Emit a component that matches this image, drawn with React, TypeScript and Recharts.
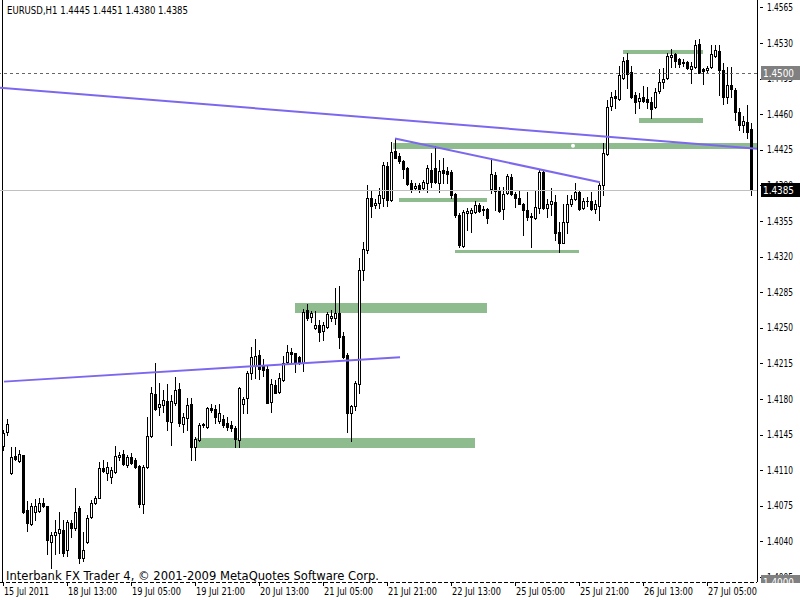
import React from "react";
import { ComposedChart, Bar, XAxis, YAxis, ReferenceLine, ReferenceArea, ReferenceDot } from "recharts";

// EURUSD H1, 15 Jul 21:00 .. 27 Jul 16:00 (188 bars)
const opens = [
  1.4134,1.4147,1.4107,1.4124,1.4119,1.4125,1.4071,1.4057,1.4069,1.4070,
  1.4078,1.4075,1.4039,1.4046,1.4048,1.4051,1.4031,1.4058,1.4053,1.4073,
  1.4024,1.4039,1.4064,1.4078,1.4083,1.4112,1.4107,1.4103,1.4108,1.4123,
  1.4126,1.4115,1.4123,1.4120,1.4114,1.4077,1.4113,1.4144,1.4185,1.4172,
  1.4174,1.4178,1.4157,1.4176,1.4190,1.4155,1.4161,1.4175,1.4133,1.4140,
  1.4154,1.4152,1.4171,1.4170,1.4158,1.4160,1.4156,1.4154,1.4151,1.4140,
  1.4175,1.4181,1.4205,1.4212,1.4223,1.4213,1.4209,1.4177,1.4194,1.4187,
  1.4199,1.4216,1.4226,1.4225,1.4221,1.4215,1.4267,1.4261,1.4250,1.4253,
  1.4247,1.4251,1.4260,1.4260,1.4264,1.4242,1.4223,1.4166,1.4173,1.4195,
  1.4307,1.4326,1.4378,1.4371,1.4373,1.4378,1.4409,1.4376,1.4424,1.4419,
  1.4414,1.4407,1.4392,1.4387,1.4390,1.4387,1.4392,1.4405,1.4407,1.4392,
  1.4405,1.4404,1.4403,1.4381,1.4361,1.4330,1.4363,1.4363,1.4364,1.4371,
  1.4366,1.4367,1.4386,1.4400,1.4384,1.4367,1.4382,1.4398,1.4381,1.4378,
  1.4372,1.4366,1.4359,1.4358,1.4368,1.4403,1.4368,1.4372,1.4374,1.4344,
  1.4333,1.4354,1.4372,1.4377,1.4383,1.4368,1.4375,1.4375,1.4367,1.4370,
  1.4390,1.4421,1.4468,1.4478,1.4475,1.4496,1.4513,1.4501,1.4479,1.4473,
  1.4477,1.4475,1.4472,1.4467,1.4483,1.4492,1.4496,1.4516,1.4519,1.4514,
  1.4511,1.4511,1.4504,1.4506,1.4529,1.4504,1.4503,1.4506,1.4517,1.4522,
  1.4503,1.4477,1.4489,1.4484,1.4462,1.4449,1.4452,1.4445,
];
const highs = [
  1.4149,1.4160,1.4133,1.4133,1.4130,1.4125,1.4080,1.4078,1.4082,1.4083,
  1.4083,1.4075,1.4049,1.4061,1.4069,1.4061,1.4061,1.4061,1.4092,1.4075,
  1.4049,1.4066,1.4081,1.4085,1.4118,1.4120,1.4118,1.4113,1.4134,1.4128,
  1.4130,1.4125,1.4127,1.4122,1.4115,1.4115,1.4162,1.4192,1.4215,1.4196,
  1.4189,1.4195,1.4184,1.4202,1.4196,1.4166,1.4181,1.4181,1.4143,1.4156,
  1.4156,1.4172,1.4175,1.4174,1.4175,1.4164,1.4162,1.4158,1.4153,1.4192,
  1.4182,1.4207,1.4231,1.4239,1.4228,1.4219,1.4213,1.4200,1.4199,1.4205,
  1.4222,1.4233,1.4230,1.4225,1.4222,1.4268,1.4273,1.4266,1.4266,1.4258,
  1.4256,1.4265,1.4267,1.4289,1.4291,1.4246,1.4225,1.4174,1.4198,1.4319,
  1.4334,1.4390,1.4385,1.4377,1.4387,1.4413,1.4413,1.4433,1.4436,1.4422,
  1.4415,1.4408,1.4395,1.4392,1.4392,1.4395,1.4410,1.4422,1.4429,1.4415,
  1.4417,1.4408,1.4405,1.4382,1.4363,1.4366,1.4368,1.4368,1.4375,1.4373,
  1.4370,1.4368,1.4417,1.4403,1.4388,1.4388,1.4401,1.4401,1.4383,1.4385,
  1.4373,1.4383,1.4363,1.4384,1.4405,1.4404,1.4377,1.4387,1.4380,1.4354,
  1.4372,1.4380,1.4380,1.4392,1.4385,1.4378,1.4379,1.4383,1.4376,1.4392,
  1.4432,1.4474,1.4482,1.4484,1.4507,1.4516,1.4520,1.4507,1.4482,1.4481,
  1.4488,1.4487,1.4477,1.4486,1.4504,1.4505,1.4520,1.4524,1.4520,1.4515,
  1.4514,1.4512,1.4511,1.4533,1.4534,1.4505,1.4507,1.4528,1.4528,1.4528,
  1.4510,1.4506,1.4506,1.4486,1.4466,1.4458,1.4469,1.4451,
];
const lows = [
  1.4130,1.4145,1.4106,1.4120,1.4118,1.4068,1.4050,1.4056,1.4061,1.4069,
  1.4074,1.4028,1.4014,1.4028,1.4029,1.4026,1.4026,1.4044,1.4051,1.4019,
  1.4021,1.4038,1.4063,1.4077,1.4083,1.4108,1.4100,1.4097,1.4107,1.4120,
  1.4115,1.4113,1.4116,1.4112,1.4074,1.4068,1.4112,1.4143,1.4169,1.4164,
  1.4167,1.4149,1.4135,1.4174,1.4153,1.4147,1.4149,1.4120,1.4120,1.4139,
  1.4152,1.4151,1.4167,1.4156,1.4156,1.4152,1.4149,1.4148,1.4133,1.4133,
  1.4166,1.4166,1.4200,1.4201,1.4200,1.4203,1.4176,1.4167,1.4186,1.4186,
  1.4198,1.4215,1.4215,1.4206,1.4214,1.4207,1.4258,1.4256,1.4249,1.4237,
  1.4238,1.4250,1.4257,1.4254,1.4230,1.4220,1.4147,1.4139,1.4169,1.4186,
  1.4297,1.4323,1.4359,1.4368,1.4368,1.4370,1.4370,1.4375,1.4417,1.4412,
  1.4397,1.4390,1.4383,1.4385,1.4383,1.4385,1.4383,1.4388,1.4392,1.4383,
  1.4392,1.4392,1.4378,1.4359,1.4329,1.4329,1.4346,1.4344,1.4363,1.4364,
  1.4361,1.4353,1.4382,1.4366,1.4364,1.4357,1.4381,1.4380,1.4369,1.4372,
  1.4341,1.4356,1.4329,1.4357,1.4363,1.4367,1.4359,1.4361,1.4336,1.4324,
  1.4333,1.4343,1.4370,1.4376,1.4366,1.4367,1.4370,1.4366,1.4363,1.4356,
  1.4380,1.4420,1.4464,1.4466,1.4474,1.4495,1.4486,1.4476,1.4461,1.4466,
  1.4472,1.4466,1.4456,1.4466,1.4481,1.4486,1.4495,1.4506,1.4506,1.4506,
  1.4507,1.4504,1.4491,1.4505,1.4500,1.4490,1.4501,1.4505,1.4516,1.4479,
  1.4470,1.4471,1.4477,1.4454,1.4444,1.4442,1.4437,1.4380,
];
const closes = [
  1.4146,1.4155,1.4123,1.4121,1.4126,1.4069,1.4058,1.4075,1.4075,1.4078,
  1.4075,1.4041,1.4046,1.4049,1.4052,1.4029,1.4059,1.4053,1.4069,1.4024,
  1.4031,1.4063,1.4078,1.4083,1.4112,1.4109,1.4113,1.4110,1.4124,1.4125,
  1.4116,1.4123,1.4117,1.4113,1.4077,1.4113,1.4144,1.4186,1.4170,1.4175,
  1.4179,1.4158,1.4178,1.4189,1.4156,1.4162,1.4174,1.4133,1.4141,1.4154,
  1.4155,1.4171,1.4169,1.4162,1.4166,1.4154,1.4152,1.4151,1.4141,1.4191,
  1.4180,1.4205,1.4221,1.4222,1.4209,1.4208,1.4176,1.4195,1.4186,1.4201,
  1.4215,1.4226,1.4224,1.4215,1.4215,1.4265,1.4260,1.4264,1.4253,1.4246,
  1.4253,1.4263,1.4262,1.4264,1.4241,1.4221,1.4166,1.4173,1.4196,1.4307,
  1.4327,1.4378,1.4370,1.4373,1.4380,1.4410,1.4376,1.4423,1.4417,1.4414,
  1.4406,1.4391,1.4386,1.4389,1.4385,1.4393,1.4407,1.4393,1.4393,1.4404,
  1.4402,1.4401,1.4380,1.4361,1.4331,1.4364,1.4365,1.4366,1.4371,1.4365,
  1.4367,1.4358,1.4401,1.4384,1.4365,1.4381,1.4399,1.4381,1.4378,1.4372,
  1.4366,1.4359,1.4360,1.4369,1.4403,1.4368,1.4372,1.4375,1.4343,1.4333,
  1.4354,1.4372,1.4377,1.4383,1.4367,1.4375,1.4375,1.4367,1.4372,1.4390,
  1.4422,1.4467,1.4477,1.4476,1.4498,1.4512,1.4499,1.4477,1.4472,1.4476,
  1.4473,1.4472,1.4465,1.4482,1.4492,1.4495,1.4517,1.4518,1.4512,1.4509,
  1.4510,1.4505,1.4507,1.4528,1.4500,1.4502,1.4505,1.4519,1.4523,1.4503,
  1.4477,1.4489,1.4485,1.4462,1.4449,1.4453,1.4442,1.4385,
];

const timeTicks = [0, 16, 32, 48, 64, 80, 96, 112, 128, 144, 160, 176];
const timeLabels = [
  "15 Jul 2011", "18 Jul 13:00", "19 Jul 05:00", "19 Jul 21:00", "20 Jul 13:00", "21 Jul 05:00",
  "21 Jul 21:00", "22 Jul 13:00", "25 Jul 05:00", "25 Jul 21:00", "26 Jul 13:00", "27 Jul 05:00",
];
const priceTicks = [
  1.4565, 1.453, 1.4495, 1.446, 1.4425, 1.439, 1.4355, 1.432, 1.4285,
  1.425, 1.4215, 1.418, 1.4145, 1.411, 1.4075, 1.404, 1.4005,
];
// marked prices on the scale: alert line, bid, bottom line
const markPrices = [1.45, 1.4385, 1.4];
const markColors = ["#808080", "#000000", "#808080"];

// green zones drawn on the chart (bar index, price)
const zoneFrom = [73, 48.25, 97.5, 99, 113, 155, 159];
const zoneTo = [121, 118, 188.5, 121, 144, 175, 175];
const zoneLow = [1.4264, 1.4132, 1.4426, 1.4374, 1.4323, 1.4519, 1.4451];
const zoneHigh = [1.4274, 1.4142, 1.4432, 1.4378, 1.4326, 1.4523, 1.4456];

// trend lines (bar index, price)
const trendX1 = [-0.75, 0.25, 98];
const trendY1 = [1.4486, 1.4197, 1.4436];
const trendX2 = [188.5, 99.25, 149.25];
const trendY2 = [1.4426, 1.4221, 1.4393];

const data = opens.map((o, i) => ({ i, open: o, high: highs[i], low: lows[i], close: closes[i] }));

const PLOT_BOTTOM = 582;
const FONT = "'Liberation Sans Narrow', 'DejaVu Sans Condensed', 'Liberation Sans', sans-serif";

function Candle(props: any) {
  const { x, y, width, height, payload } = props;
  if (!payload || !height) return null;
  const { open, close, high, low } = payload;
  const k = height / (high - low);
  const cx = Math.round(x + width / 2);
  const yO = y + (high - open) * k;
  const yC = y + (high - close) * k;
  const top = Math.round(Math.min(yO, yC));
  const bot = Math.round(Math.max(yO, yC));
  const up = close >= open;
  return (
    <g shapeRendering="crispEdges">
      <line x1={cx + 0.5} x2={cx + 0.5} y1={Math.round(y)} y2={Math.round(y + height) + 1} stroke="#000" />
      {bot - top < 1 ? (
        <line x1={cx - 1} x2={cx + 2} y1={top + 0.5} y2={top + 0.5} stroke="#000" />
      ) : (
        <rect x={cx - 0.5} y={top + 0.5} width={2} height={bot - top} fill={up ? "#fff" : "#000"} stroke="#000" />
      )}
    </g>
  );
}

function TimeTick(props: any) {
  const { x, y, payload } = props;
  const k = timeTicks.indexOf(payload.value);
  const label = timeLabels[k];
  return (
    <text
      x={x + 1}
      y={y}
      dy="0.72em"
      fontSize={10}
      fontFamily={FONT}
      fill="#000"
      textLength={label.length === 11 ? 45 : 49}
      lengthAdjust="spacingAndGlyphs"
    >
      {label}
    </text>
  );
}

function PriceTick(props: any) {
  const { x, y, payload } = props;
  const v = payload.value;
  const m = markPrices.indexOf(v);
  if (m >= 0) {
    const top = Math.round(y) - 7;
    const bottom = Math.min(Math.round(y) + 7, PLOT_BOTTOM + 1);
    return (
      <g>
        <rect x={x + 4} y={top} width={800 - x - 4} height={bottom - top} fill={markColors[m]} />
        <text x={x + 6} y={y} dy="0.36em" fontSize={11} fontFamily={FONT} fill="#fff" textLength={31} lengthAdjust="spacingAndGlyphs">
          {v.toFixed(4)}
        </text>
      </g>
    );
  }
  const yy = Math.round(y) + 0.5;
  return (
    <g>
      <line x1={x + 3} x2={x + 6} y1={yy} y2={yy} stroke="#000" shapeRendering="crispEdges" />
      <text x={x + 10} y={y} dy="0.36em" fontSize={10} fontFamily={FONT} fill="#000" textLength={26} lengthAdjust="spacingAndGlyphs">
        {v.toFixed(4)}
      </text>
    </g>
  );
}

export default function App() {
  return (
    <div style={{ position: "relative", width: 800, height: 600, background: "#fff" }}>
      <style>{"body{margin:0}"}</style>
      <ComposedChart width={800} height={600} data={data} margin={{ top: 0, right: 0, bottom: 0, left: 0 }}>
        <XAxis
          dataKey="i"
          type="number"
          domain={[-0.75, 188.5]}
          allowDataOverflow
          ticks={timeTicks}
          interval={0}
          height={18}
          tickSize={4}
          tickMargin={2}
          tick={<TimeTick />}
          axisLine={{ stroke: "#000", strokeDasharray: "4 2", shapeRendering: "crispEdges" }}
          tickLine={{ stroke: "#000", shapeRendering: "crispEdges" }}
        />
        <YAxis
          orientation="right"
          type="number"
          domain={[1.4, 1.45722]}
          allowDataOverflow
          ticks={[...priceTicks, ...markPrices]}
          interval={0}
          width={43}
          tickSize={0}
          tickMargin={0}
          tick={<PriceTick />}
          axisLine={{ stroke: "#000", shapeRendering: "crispEdges" }}
          tickLine={false}
        />
        <ReferenceLine x={-0.25} stroke="#000" shapeRendering="crispEdges" />
        {zoneFrom.map((x1, k) => (
          <ReferenceArea
            key={"z" + k}
            x1={x1}
            x2={zoneTo[k]}
            y1={zoneLow[k]}
            y2={zoneHigh[k]}
            fill="#8fbc8f"
            fillOpacity={1}
            stroke="none"
            ifOverflow="visible"
            shapeRendering="crispEdges"
          />
        ))}
        <ReferenceLine y={markPrices[0]} stroke="#666" strokeDasharray="3 3" shapeRendering="crispEdges" />
        <ReferenceLine y={markPrices[1]} stroke="#c0c0c0" shapeRendering="crispEdges" />
        <Bar dataKey={(d: any) => [d.low, d.high]} barSize={3} shape={(p: any) => <Candle {...p} />} isAnimationActive={false} />
        {trendX1.map((x1, k) => (
          <ReferenceLine
            key={"t" + k}
            segment={[{ x: x1, y: trendY1[k] }, { x: trendX2[k], y: trendY2[k] }]}
            stroke="#7b68ee"
            strokeWidth={2}
            ifOverflow="visible"
          />
        ))}
        <ReferenceDot x={142.5} y={1.4429} r={2} fill="#fff" stroke="none" />
      </ComposedChart>
      <svg width={800} height={600} style={{ position: "absolute", left: 0, top: 0, pointerEvents: "none" }}>
        <text x={7} y={14} fontSize={11} fontFamily={FONT} fill="#000" textLength={181} lengthAdjust="spacingAndGlyphs">
          EURUSD,H1  1.4445 1.4451 1.4380 1.4385
        </text>
        <text x={6} y={580} fontSize={13} fontFamily={FONT} fill="#000" textLength={373} lengthAdjust="spacingAndGlyphs">
          Interbank FX Trader 4, © 2001-2009 MetaQuotes Software Corp.
        </text>
      </svg>
    </div>
  );
}
